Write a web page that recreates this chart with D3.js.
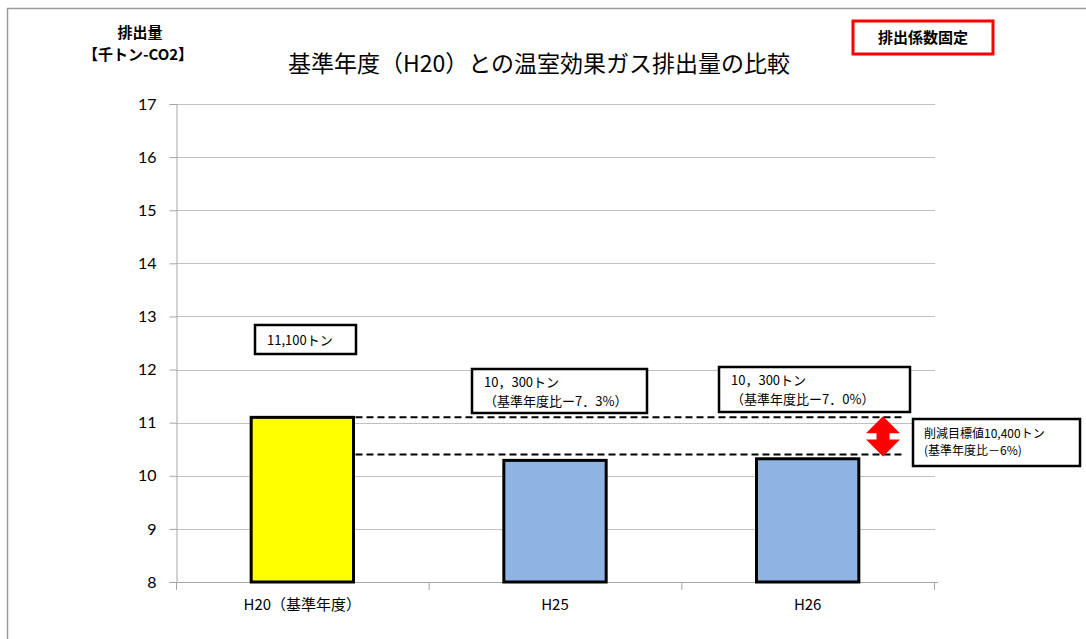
<!DOCTYPE html>
<html>
<head>
<meta charset="utf-8">
<script src="https://cdn.jsdelivr.net/npm/d3@7"></script>
<style>
  body { margin: 0; background: #fff; }
  svg { display: block; }
  text { font-family: "Noto Sans CJK JP", "Noto Sans", sans-serif; fill: #000; }
  .tick-num { font-family: Lato, "Open Sans", sans-serif; font-size: 16px; }
</style>
</head>
<body>
<div id="chart"></div>
<script>
// データ
const categories = ['H20（基準年度）', 'H25', 'H26'];
const emissions = [11.1, 10.29, 10.32];   // 千トン-CO2
const barColors = ['#FFFF00', '#8EB4E3', '#8EB4E3'];
const yTicks = [8, 9, 10, 11, 12, 13, 14, 15, 16, 17];
const baseLevel = 11.1;     // 基準年度
const targetLevel = 10.4;   // 削減目標値
const barLabels = [
    ['11,100トン'],
    ['10，300トン', '（基準年度比ー7．3%）'],
    ['10，300トン', '（基準年度比ー7．0%）']
];
const targetLabel = ['削減目標値10,400トン', '(基準年度比－6%)'];

const W = 1086, H = 639;
const svg = d3.select('#chart').append('svg').attr('width', W).attr('height', H);

// 外枠
svg.append('path')
    .attr('d', `M7.5,${H} V8.5 H${W}`)
    .attr('fill', 'none')
    .attr('stroke', '#9a9a9a')
    .attr('stroke-width', 1.5);

const plotLeft = 176, plotRight = 935;
const y = d3.scaleLinear().domain([8, 17]).range([582, 104]);
const x = d3.scaleBand()
    .domain(categories)
    .range([plotLeft, plotRight - 1])
    .paddingInner(0.595)
    .paddingOuter(0.2975);

// グリッド
svg.append('g')
    .selectAll('line')
    .data(yTicks.slice(1))
    .join('line')
    .attr('x1', plotLeft).attr('x2', plotRight)
    .attr('y1', d => Math.round(y(d)) + 0.5).attr('y2', d => Math.round(y(d)) + 0.5)
    .attr('stroke', '#c0c0c0');

// Y軸
const yAxis = svg.append('g')
    .attr('transform', `translate(${plotLeft + 0.5},0)`)
    .call(d3.axisLeft(y).tickValues(yTicks).tickSize(7).tickPadding(13).tickFormat(d3.format('d')));
yAxis.select('.domain').attr('stroke', '#a6a6a6');
yAxis.selectAll('.tick line').attr('stroke', '#a6a6a6');
yAxis.selectAll('.tick text').attr('class', 'tick-num').attr('fill', '#000');

// X軸
svg.append('line')
    .attr('x1', plotLeft).attr('x2', plotRight + 3)
    .attr('y1', 582.5).attr('y2', 582.5)
    .attr('stroke', '#a6a6a6');
svg.append('g')
    .selectAll('line')
    .data(d3.range(categories.length + 1))
    .join('line')
    .attr('x1', i => plotLeft + i * x.step() + 0.5)
    .attr('x2', i => plotLeft + i * x.step() + 0.5)
    .attr('y1', 582).attr('y2', 590)
    .attr('stroke', '#a6a6a6');
svg.append('g')
    .selectAll('text')
    .data(categories)
    .join('text')
    .attr('x', d => x(d) + x.bandwidth() / 2)
    .attr('y', 610)
    .attr('text-anchor', 'middle')
    .style('font-size', '15px')
    .text(d => d);

// 棒
svg.append('g')
    .selectAll('rect')
    .data(categories)
    .join('rect')
    .attr('x', d => x(d))
    .attr('y', (d, i) => y(emissions[i]))
    .attr('width', x.bandwidth())
    .attr('height', (d, i) => y(8) - y(emissions[i]))
    .attr('fill', (d, i) => barColors[i])
    .attr('stroke', '#000')
    .attr('stroke-width', 3);

// 基準値・目標値の破線
const dashX1 = x(categories[0]) + x.bandwidth() + 2;
const dashX2 = 905;
svg.append('g')
    .selectAll('line')
    .data([baseLevel, targetLevel])
    .join('line')
    .attr('x1', dashX1).attr('x2', dashX2)
    .attr('y1', d => y(d)).attr('y2', d => y(d))
    .attr('stroke', '#000')
    .attr('stroke-width', 2)
    .attr('stroke-dasharray', '7,4');

// 赤い両矢印
const ax = 883, ay1 = y(baseLevel) - 1, ay2 = y(targetLevel) + 2;
const hw = 17, hl = 17, sw = 6.5;
svg.append('path')
    .attr('d', `M${ax},${ay1} L${ax + hw},${ay1 + hl} L${ax + sw},${ay1 + hl} L${ax + sw},${ay2 - hl}
        L${ax + hw},${ay2 - hl} L${ax},${ay2} L${ax - hw},${ay2 - hl} L${ax - sw},${ay2 - hl}
        L${ax - sw},${ay1 + hl} L${ax - hw},${ay1 + hl} Z`)
    .attr('fill', '#FF0000');

// 注記ボックス
function labelBox(x0, y0, w, h, lines, opts = {}) {
    const g = svg.append('g');
    g.append('rect')
        .attr('x', x0).attr('y', y0).attr('width', w).attr('height', h)
        .attr('fill', '#fff')
        .attr('stroke', opts.stroke || '#000')
        .attr('stroke-width', opts.strokeWidth || 2.5);
    g.selectAll('text')
        .data(lines)
        .join('text')
        .attr('x', opts.anchor === 'middle' ? x0 + w / 2 : x0 + (opts.pad || 12))
        .attr('y', (d, i) => y0 + (opts.first || 19) + i * (opts.lh || 19))
        .attr('text-anchor', opts.anchor || 'start')
        .style('font-size', (opts.size || 13) + 'px')
        .style('font-weight', opts.weight || 'normal')
        .attr('fill', opts.color || '#000')
        .text(d => d);
}

const boxTops = [325, 369, 367];
const boxDims = [[101, 29], [175, 44], [191, 45]];
const boxLefts = [255, 472, 719];
barLabels.forEach((lines, i) => {
    labelBox(boxLefts[i], boxTops[i], boxDims[i][0], boxDims[i][1], lines, {
        pad: 12, first: i === 0 ? 20 : 18, lh: 19, size: 13
    });
});
labelBox(913, 419, 167, 47, targetLabel, { pad: 11, first: 19, lh: 17, size: 12, color: '#333' });

// 排出係数固定
labelBox(853, 21, 140, 33, ['排出係数固定'], {
    anchor: 'middle', first: 22, size: 15, weight: 'bold', stroke: '#FF0000', strokeWidth: 3
});

// タイトル
svg.append('text')
    .attr('x', 539)
    .attr('y', 72)
    .attr('text-anchor', 'middle')
    .style('font-size', '23px')
    .text('基準年度（H20）との温室効果ガス排出量の比較');

// 軸タイトル
svg.append('text')
    .attr('x', 140).attr('y', 38)
    .attr('text-anchor', 'middle')
    .style('font-size', '15px').style('font-weight', 'bold')
    .text('排出量');
svg.append('text')
    .attr('x', 138).attr('y', 60)
    .attr('text-anchor', 'middle')
    .style('font-size', '15px').style('font-weight', 'bold')
    .text('【千トン-CO2】');
</script>
</body>
</html>
